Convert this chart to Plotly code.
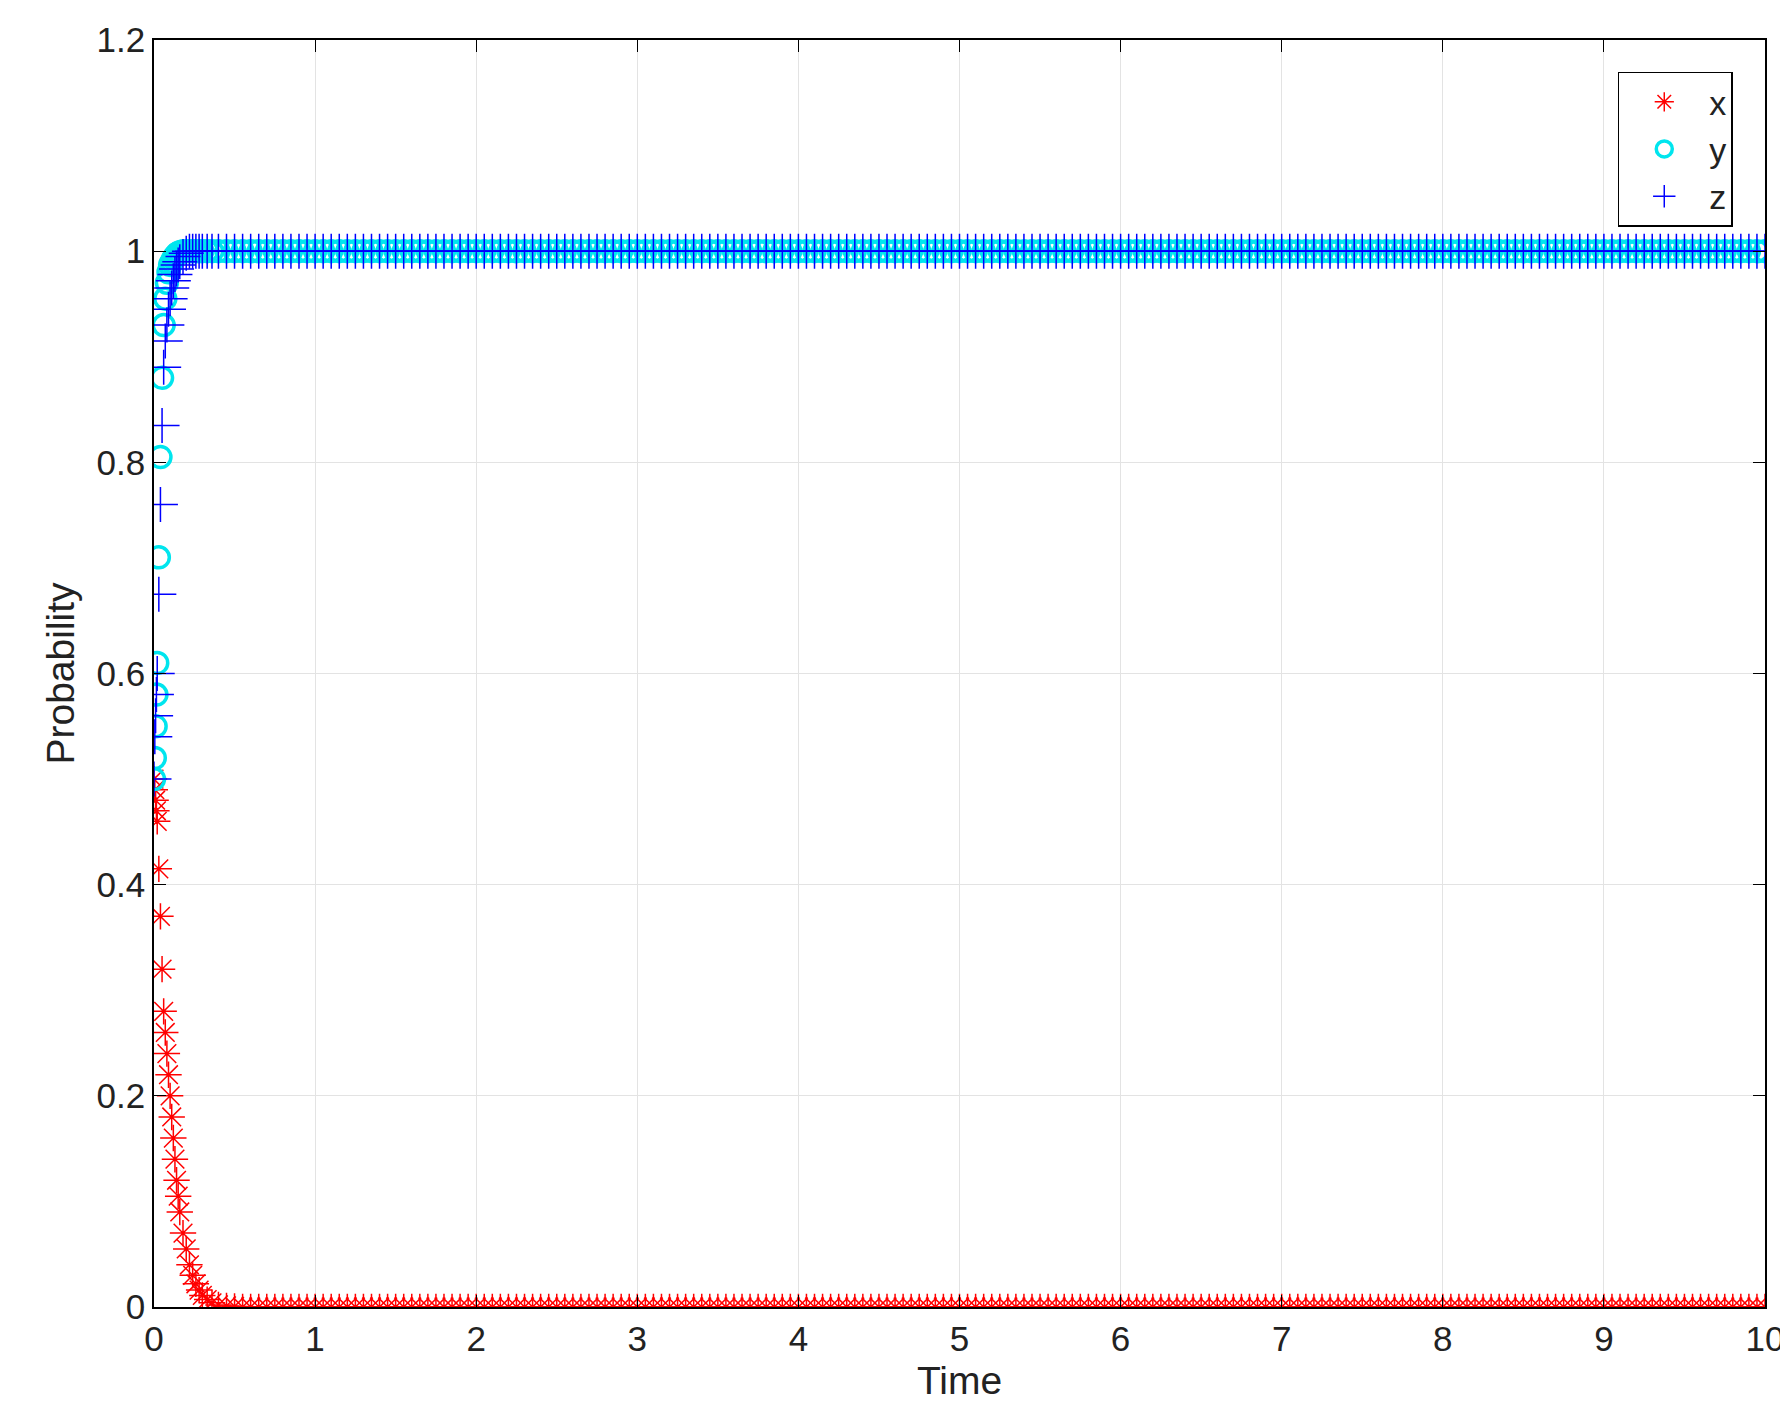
import plotly.graph_objects as go

t_early = [0, 0.005, 0.01, 0.015, 0.02, 0.03, 0.04, 0.05, 0.06, 0.07, 0.08, 0.09, 0.10,
           0.11, 0.12, 0.13, 0.14, 0.15, 0.16, 0.18, 0.20, 0.22, 0.24, 0.26, 0.28, 0.30,
           0.33, 0.36, 0.40, 0.45, 0.50, 0.55, 0.60]
x_early = [0.5, 0.49, 0.48, 0.47, 0.46, 0.415, 0.37, 0.32, 0.28, 0.26, 0.24, 0.22, 0.20,
           0.18, 0.16, 0.14, 0.12, 0.105, 0.09, 0.07, 0.055, 0.04, 0.03, 0.022, 0.016, 0.011,
           0.007, 0.004, 0.002, 0.001, 0.0005, 0, 0]
y_early = [0.5, 0.52, 0.55, 0.58, 0.61, 0.71, 0.805, 0.88, 0.93, 0.955, 0.97, 0.98, 0.987,
           0.99, 0.993, 0.995, 0.997, 0.998, 0.999, 1, 1, 1, 1, 1, 1, 1,
           1, 1, 1, 1, 1, 1, 1]
z_early = [0.5, 0.54, 0.56, 0.58, 0.6, 0.675, 0.76, 0.835, 0.89, 0.915, 0.93, 0.945, 0.955,
           0.965, 0.972, 0.978, 0.983, 0.987, 0.99, 0.995, 0.998, 1, 1, 1, 1, 1,
           1, 1, 1, 1, 1, 1, 1]

t_tail = [0.65, 0.7, 0.75, 0.8, 0.85, 0.9, 0.95, 1.0, 1.05, 1.1, 1.15, 1.2, 1.25, 1.3, 1.35, 1.4, 1.45, 1.5,
          1.55, 1.6, 1.65, 1.7, 1.75, 1.8, 1.85, 1.9, 1.95, 2.0, 2.05, 2.1, 2.15, 2.2, 2.25, 2.3, 2.35, 2.4,
          2.45, 2.5, 2.55, 2.6, 2.65, 2.7, 2.75, 2.8, 2.85, 2.9, 2.95, 3.0, 3.05, 3.1, 3.15, 3.2, 3.25, 3.3,
          3.35, 3.4, 3.45, 3.5, 3.55, 3.6, 3.65, 3.7, 3.75, 3.8, 3.85, 3.9, 3.95, 4.0, 4.05, 4.1, 4.15, 4.2,
          4.25, 4.3, 4.35, 4.4, 4.45, 4.5, 4.55, 4.6, 4.65, 4.7, 4.75, 4.8, 4.85, 4.9, 4.95, 5.0, 5.05, 5.1,
          5.15, 5.2, 5.25, 5.3, 5.35, 5.4, 5.45, 5.5, 5.55, 5.6, 5.65, 5.7, 5.75, 5.8, 5.85, 5.9, 5.95, 6.0,
          6.05, 6.1, 6.15, 6.2, 6.25, 6.3, 6.35, 6.4, 6.45, 6.5, 6.55, 6.6, 6.65, 6.7, 6.75, 6.8, 6.85, 6.9,
          6.95, 7.0, 7.05, 7.1, 7.15, 7.2, 7.25, 7.3, 7.35, 7.4, 7.45, 7.5, 7.55, 7.6, 7.65, 7.7, 7.75, 7.8,
          7.85, 7.9, 7.95, 8.0, 8.05, 8.1, 8.15, 8.2, 8.25, 8.3, 8.35, 8.4, 8.45, 8.5, 8.55, 8.6, 8.65, 8.7,
          8.75, 8.8, 8.85, 8.9, 8.95, 9.0, 9.05, 9.1, 9.15, 9.2, 9.25, 9.3, 9.35, 9.4, 9.45, 9.5, 9.55, 9.6,
          9.65, 9.7, 9.75, 9.8, 9.85, 9.9, 9.95, 10.0]
# steady-state values: x stays at 0, y and z stay at 1
x_tail = [0] * len(t_tail)
y_tail = [1] * len(t_tail)
z_tail = [1] * len(t_tail)

t = t_early + t_tail
x = x_early + x_tail
y = y_early + y_tail
z = z_early + z_tail

fig = go.Figure()
fig.add_trace(go.Scatter(x=t, y=x, mode="markers", name="x",
                         marker=dict(symbol="asterisk-open", size=22, color="#ff0000",
                                     line=dict(width=1.5, color="#ff0000"))))
fig.add_trace(go.Scatter(x=t, y=y, mode="markers", name="y",
                         marker=dict(symbol="circle-open", size=21, color="#00e5ee",
                                     line=dict(width=3.5, color="#00e5ee"))))
fig.add_trace(go.Scatter(x=t, y=z, mode="markers", name="z",
                         marker=dict(symbol="cross-thin-open", size=25, color="#0000ff",
                                     line=dict(width=1.5, color="#0000ff"))))

axis_common = dict(showline=True, linecolor="black", linewidth=1.5, mirror="ticks",
                   ticks="inside", ticklen=12, tickcolor="black",
                   showgrid=True, gridcolor="#e3e3e3", zeroline=False,
                   tickfont=dict(size=35, color="#222"))
fig.update_layout(
    width=1788, height=1424, paper_bgcolor="white", plot_bgcolor="white",
    margin=dict(l=146, r=30, t=23, b=125),
    font=dict(family="Liberation Sans, Arial", color="#222"),
    xaxis=dict(range=[0, 10], dtick=1, title=dict(text="Time", font=dict(size=39), standoff=10),
               **axis_common),
    yaxis=dict(range=[0, 1.2], dtick=0.2, title=dict(text="Probability", font=dict(size=39), standoff=10),
               **axis_common),
    legend=dict(x=0.98, y=0.975, xanchor="right", yanchor="top", bgcolor="white",
                bordercolor="black", borderwidth=1.5, font=dict(size=34),
                itemwidth=80, tracegroupgap=8),
)

fig.write_html("out.html")
